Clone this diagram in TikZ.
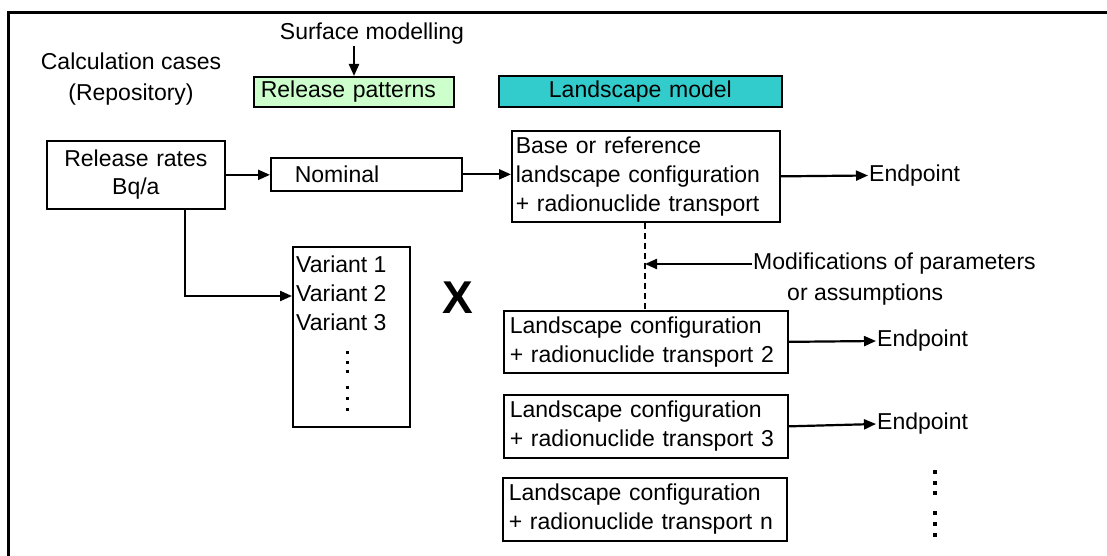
\documentclass[tikz,border=0pt]{standalone}
\usepackage{fontspec}
\setmainfont{Liberation Sans}
\usetikzlibrary{arrows.meta}
\newcommand\txtsize{\fontsize{23}{29}\selectfont}
\definecolor{patgreen}{HTML}{CCFFCC}
\definecolor{landteal}{HTML}{33CCCC}
\tikzset{
  box/.style={draw, line width=1.7pt, inner ysep=0pt, anchor=north west, font=\txtsize},
  lbl/.style={font=\txtsize, inner sep=1pt},
  arr/.style={line width=2.2pt, -{Triangle[length=12pt,width=10pt]}},
  dashline/.style={line width=1.5pt, dash pattern=on 6pt off 4pt},
  frameline/.style={line width=2.2pt}
}
\begin{document}
\begin{tikzpicture}[x=1pt,y=-1pt]
\useasboundingbox (0,0) rectangle (1107,556);
% outer frame (top and left edges)
\draw[frameline] (8.5,556) -- (8.5,12.5) -- (1107,12.5);

% header labels
\node[lbl] (surf) at (372,34) {Surface modelling};
\node[lbl, align=center, font=\fontsize{23}{31}\selectfont] (calc) at (131,79) {Calculation cases\\(Repository)};
\node[box, fill=patgreen, minimum height=30pt, text width=186pt, inner xsep=7pt, align=left] (relpat) at (253,76) {Release patterns};
\node[box, fill=landteal, minimum height=31pt, text width=275pt, inner xsep=4pt, align=center] (land) at (498,75) {Landscape model};

% release rates and cases
\node[box, minimum height=68pt, text width=170pt, inner xsep=4pt, align=center] (rr) at (46,140) {Release rates\\[-1pt]Bq/a};
\node[box, minimum height=33pt, text width=143pt, inner xsep=24pt, align=left] (nom) at (270,157) {Nominal};
\node[box, minimum height=91pt, text width=260pt, inner xsep=4pt, align=left] (base) at (511,130) {Base or reference\\landscape configuration\\+ radionuclide transport};
\node[box, minimum width=117pt, minimum height=180pt, inner sep=0pt] (var) at (292,246) {};
\node[lbl, anchor=north west, align=left, inner sep=0pt] (varlist) at (296,256) {Variant 1\\Variant 2\\Variant 3};
\node[font=\bfseries\fontsize{46}{46}\selectfont, inner sep=0pt] (times) at (458,298) {X};

% landscape variants
\node[box, minimum height=62pt, text width=272pt, inner xsep=6pt, align=left] (b2) at (503,310) {Landscape configuration\\+ radionuclide transport 2};
\node[box, minimum height=63pt, text width=272pt, inner xsep=6pt, align=left] (b3) at (503,394) {Landscape configuration\\+ radionuclide transport 3};
\node[box, minimum height=63pt, text width=272pt, inner xsep=6pt, align=left] (bn) at (502,477) {Landscape configuration\\+ radionuclide transport n};

% endpoints and modification note
\node[lbl, anchor=west] (ep1) at (868,175.5) {Endpoint};
\node[lbl, anchor=west] (ep2) at (876,341) {Endpoint};
\node[lbl, anchor=west] (ep3) at (876,424) {Endpoint};
\node[lbl, anchor=west] (mod) at (752,264) {Modifications of parameters};
\node[lbl, anchor=west] (mod2) at (786,295) {or assumptions};

% helper coordinates
\coordinate (sx) at (354,0);
\coordinate (split) at (185,0);
\coordinate (vrow) at (0,296);
\coordinate (dashx) at (645,0);

% connectors
\draw[arr] (surf.south -| sx) -- (relpat.north -| sx);
\draw[arr] (rr.east) -- (rr.east -| nom.west);
\draw[arr] (nom.east) -- (nom.east -| base.west);
\draw[arr] (rr.south -| split) |- (var.west |- vrow);
\draw[arr] (base.east) -- (ep1.west);
\draw[dashline] (base.south -| dashx) -- (b2.north -| dashx);
\draw[arr] (mod.west) -- (mod.west -| dashx);
\draw[arr] (b2.east) -- (ep2.west);
\draw[arr] (b3.east) -- (ep3.west);

% vertical ellipses
\foreach \y in {352,362,371,387,398,409}
  \fill (345.5,\y-1.5) rectangle ++(3,3);
\foreach \y in {472,483,493,513,524,535}
  \fill (933,\y-2) rectangle ++(4,4);
\end{tikzpicture}
\end{document}
